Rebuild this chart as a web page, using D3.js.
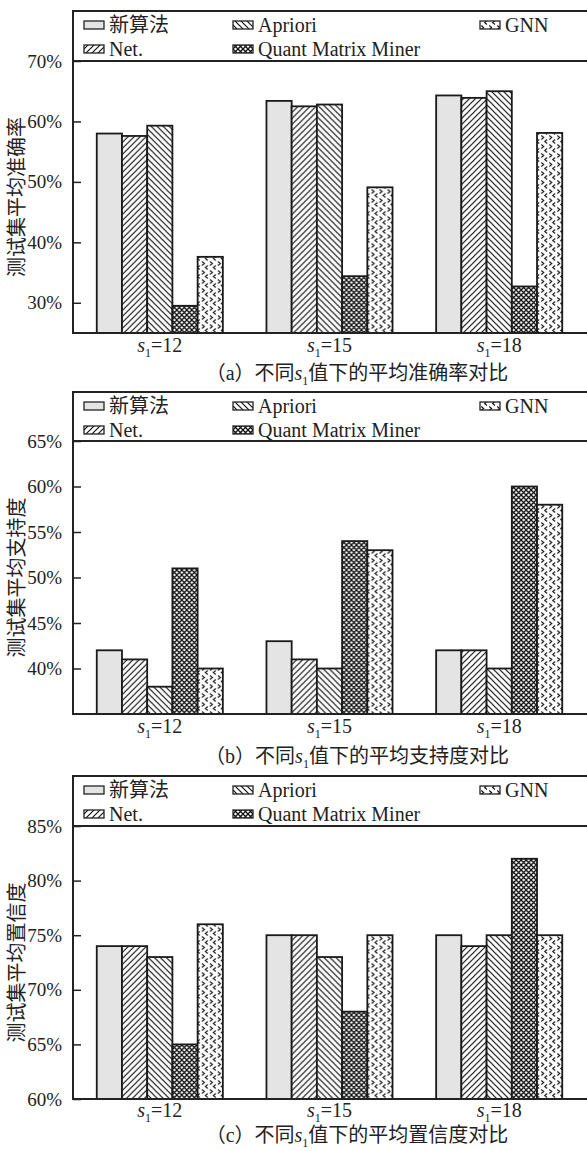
<!DOCTYPE html>
<html lang="zh">
<head>
  <meta charset="UTF-8"/>
  <title>不同s1值下的对比</title>
  <script src="https://d3js.org/d3.v7.min.js"></script>
  <style>
    body { margin: 0; background: #fff; }
    text { font-family: "Liberation Serif", "Noto Sans CJK SC", serif; fill: #222; }
  </style>
</head>
<body>
<script>
  var w = 587;
  var h = 1151;

  // data
  var s1Values = [12, 15, 18];
  var seriesNames = ["新算法", "Net.", "Apriori", "Quant Matrix Miner", "GNN"];

  // rows = s1 group, columns = series (same order as seriesNames)
  var accuracy = [[58.0, 57.6, 59.3, 29.5, 37.6],
                  [63.4, 62.5, 62.8, 34.4, 49.1],
                  [64.3, 63.9, 65.0, 32.7, 58.1]];
  var support = [[42, 41, 38, 51, 40],
                 [43, 41, 40, 54, 53],
                 [42, 42, 40, 60, 58]];
  var confidence = [[74, 74, 73, 65, 76],
                    [75, 75, 73, 68, 75],
                    [75, 74, 75, 82, 75]];

  var accTicks = [30, 40, 50, 60, 70];
  var supTicks = [40, 45, 50, 55, 60, 65];
  var confTicks = [60, 65, 70, 75, 80, 85];

  var panels = [
    {values: accuracy, ticks: accTicks, domain: [25, 70], title: "测试集平均准确率", letter: "a", tail: "值下的平均准确率对比",
     boxTop: 11, top: 61, bottom: 333, labelY: 352, captionY: 380},
    {values: support, ticks: supTicks, domain: [35, 65], title: "测试集平均支持度", letter: "b", tail: "值下的平均支持度对比",
     boxTop: 392, top: 441, bottom: 714, labelY: 733, captionY: 763},
    {values: confidence, ticks: confTicks, domain: [60, 85], title: "测试集平均置信度", letter: "c", tail: "值下的平均置信度对比",
     boxTop: 776, top: 826, bottom: 1099, labelY: 1117, captionY: 1142}
  ];

  var axisX = 73;
  var rightX = 600;

  var svg = d3.select("body")
          .append("svg")
          .attr("width", w)
          .attr("height", h);

  // fill patterns
  var defs = svg.append("defs");
  var p;
  p = defs.append("pattern").attr("id", "pNet").attr("patternUnits", "userSpaceOnUse")
          .attr("width", 6).attr("height", 6);
  p.append("path").attr("d", "M-1,7 L7,-1 M-1,1 L1,-1 M5,7 L7,5")
          .attr("stroke", "#111").attr("stroke-width", 1.2);

  p = defs.append("pattern").attr("id", "pApriori").attr("patternUnits", "userSpaceOnUse")
          .attr("width", 6).attr("height", 6);
  p.append("path").attr("d", "M-1,-1 L7,7 M5,-1 L7,1 M-1,5 L1,7")
          .attr("stroke", "#111").attr("stroke-width", 1.2);

  p = defs.append("pattern").attr("id", "pQmm").attr("patternUnits", "userSpaceOnUse")
          .attr("width", 5).attr("height", 5);
  p.append("path").attr("d", "M-1,-1 L6,6 M-1,6 L6,-1")
          .attr("stroke", "#111").attr("stroke-width", 1.3);

  p = defs.append("pattern").attr("id", "pGnn").attr("patternUnits", "userSpaceOnUse")
          .attr("width", 8).attr("height", 9);
  p.append("path").attr("d", "M1.2,0.5 L3.6,2.5 L1.2,4.5 M7,4.5 L4.6,6.5 L7,8.5")
          .attr("stroke", "#111").attr("stroke-width", 1.1).attr("fill", "none");

  var fills = ["#e4e4e4", "url(#pNet)", "url(#pApriori)", "url(#pQmm)", "url(#pGnn)"];

  var xScale = d3.scaleBand()
          .domain(s1Values)
          .range([axisX, 586])
          .paddingInner(0.257)
          .paddingOuter(0.14);

  var xSub = d3.scaleBand()
          .domain(seriesNames)
          .range([0, xScale.bandwidth()]);

  var legendCols = [84, 233, 480];

  panels.forEach(function(pn) {
    var g = svg.append("g");

    var yScale = d3.scaleLinear()
            .domain(pn.domain)
            .range([pn.bottom, pn.top]);

    // bars
    var groups = g.selectAll("g.grp")
            .data(pn.values)
            .enter()
            .append("g")
            .attr("transform", function(d, i) { return "translate(" + xScale(s1Values[i]) + ",0)"; });

    groups.selectAll("g.bar")
            .data(function(d) { return d; })
            .enter()
            .each(function(d, i) {
              var sel = d3.select(this);
              var x = xSub(seriesNames[i]);
              var y = yScale(d);
              var bh = pn.bottom - y;
              sel.append("rect").attr("x", x).attr("y", y).attr("width", xSub.bandwidth()).attr("height", bh)
                      .attr("fill", "#fff");
              sel.append("rect").attr("x", x).attr("y", y).attr("width", xSub.bandwidth()).attr("height", bh)
                      .attr("fill", fills[i]).attr("stroke", "#1a1a1a").attr("stroke-width", 1.8);
            });

    // y axis with inward ticks
    var yAxis = d3.axisLeft(yScale)
            .tickValues(pn.ticks)
            .tickSize(-8)
            .tickPadding(11)
            .tickFormat(function(d) { return d + "%"; });

    var ya = g.append("g")
            .attr("transform", "translate(" + axisX + ",0)")
            .call(yAxis)
            .attr("font-family", null);
    ya.select(".domain").remove();
    ya.selectAll("line").attr("stroke", "#222").attr("stroke-width", 1.5);
    ya.selectAll("text")
            .attr("font-size", 19)
            .attr("fill", "#222")
            .style("font-family", "'Liberation Serif', serif");

    // frame: legend box, left axis, bottom axis
    g.append("line").attr("x1", axisX).attr("x2", axisX).attr("y1", pn.boxTop).attr("y2", pn.bottom)
            .attr("stroke", "#222").attr("stroke-width", 2);
    g.append("line").attr("x1", axisX - 1).attr("x2", rightX).attr("y1", pn.boxTop).attr("y2", pn.boxTop)
            .attr("stroke", "#222").attr("stroke-width", 2);
    g.append("line").attr("x1", axisX - 1).attr("x2", rightX).attr("y1", pn.top).attr("y2", pn.top)
            .attr("stroke", "#222").attr("stroke-width", 2);
    g.append("line").attr("x1", axisX - 1).attr("x2", rightX).attr("y1", pn.bottom).attr("y2", pn.bottom)
            .attr("stroke", "#222").attr("stroke-width", 2);

    // legend
    var leg = g.selectAll("g.leg")
            .data(seriesNames)
            .enter()
            .append("g")
            .attr("transform", function(d, i) {
              var col = Math.floor(i / 2), row = i % 2;
              return "translate(" + legendCols[col] + "," + (pn.boxTop + 14 + row * 24) + ")";
            });
    leg.append("rect").attr("x", 0).attr("y", -4).attr("width", 20).attr("height", 8).attr("fill", "#fff");
    leg.append("rect").attr("x", 0).attr("y", -4).attr("width", 20).attr("height", 8)
            .attr("fill", function(d, i) { return fills[i]; })
            .attr("stroke", "#222").attr("stroke-width", 1.3);
    leg.append("text")
            .attr("x", 25)
            .attr("y", 7)
            .attr("font-size", 20)
            .text(function(d) { return d; });

    // x labels
    var xl = g.selectAll("text.xl")
            .data(s1Values)
            .enter()
            .append("text")
            .attr("x", function(d) { return xScale(d) + xScale.bandwidth() / 2; })
            .attr("y", pn.labelY)
            .attr("text-anchor", "middle")
            .attr("font-size", 20);
    xl.append("tspan").attr("font-style", "italic").text("s");
    xl.append("tspan").attr("font-size", 12).attr("dy", 5).text("1");
    xl.append("tspan").attr("dy", -5).text(function(d) { return "=" + d; });

    // y title
    g.append("text")
            .attr("transform", "rotate(-90)")
            .attr("x", -(pn.top + pn.bottom) / 2)
            .attr("y", 17)
            .attr("text-anchor", "middle")
            .attr("dominant-baseline", "central")
            .attr("font-size", 20)
            .text(pn.title);

    // caption
    var cap = g.append("text")
            .attr("x", 357)
            .attr("y", pn.captionY)
            .attr("text-anchor", "middle")
            .attr("font-size", 20);
    cap.append("tspan").text("（" + pn.letter + "）不同");
    cap.append("tspan").attr("font-style", "italic").text("s");
    cap.append("tspan").attr("font-size", 12).attr("dy", 5).text("1");
    cap.append("tspan").attr("dy", -5).text(pn.tail);
  });
</script>
</body>
</html>
